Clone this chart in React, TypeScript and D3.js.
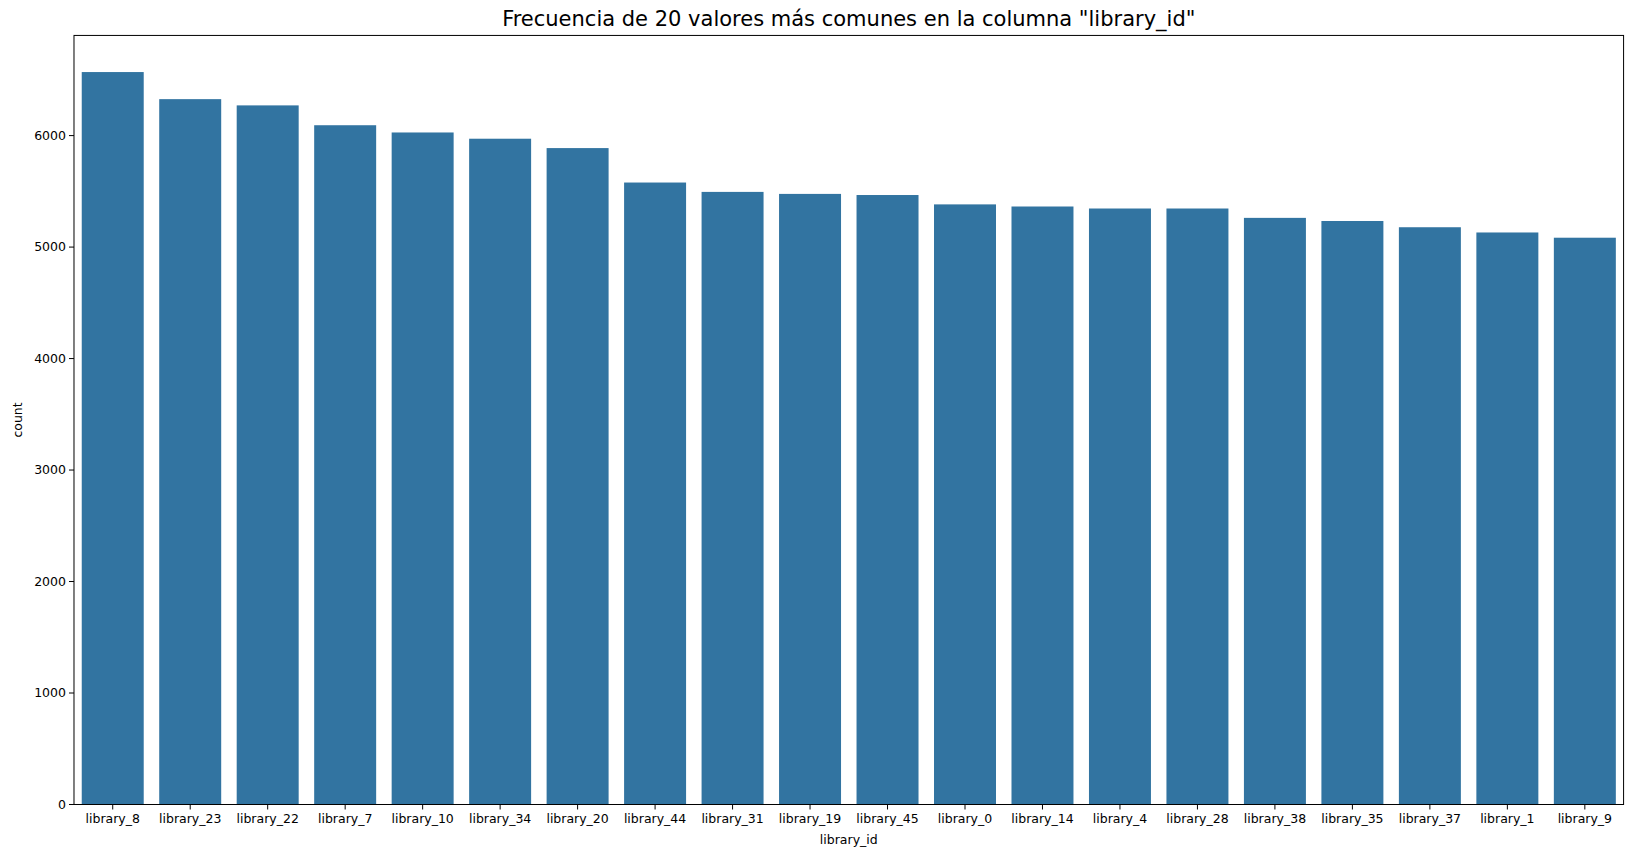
import React from "react";
import * as d3 from "d3";

const categories = ["library_8","library_23","library_22","library_7","library_10","library_34","library_20","library_44","library_31","library_19","library_45","library_0","library_14","library_4","library_28","library_38","library_35","library_37","library_1","library_9"];
const counts = [6570,6327,6271,6093,6028,5972,5888,5579,5495,5477,5467,5383,5364,5346,5346,5262,5234,5178,5131,5084];
const yTicks = [0,1000,2000,3000,4000,5000,6000];

export default function App() {
  const W = 1634, H = 859;
  const s = 1634 / 1568;
  const L = 71 * s, R = 1558 * s, T = 34 * s, B = 772 * s;
  const x = d3.scaleBand().domain(categories).range([L, R]).paddingInner(0.2).paddingOuter(0.1);
  const y = d3.scaleLinear().domain([0, d3.max(counts)! * 1.05]).range([B, T]);
  const font = "DejaVu Sans, sans-serif";
  const fs = 12.5;
  return (
    <svg width={W} height={H} style={{ position: "absolute", left: 0, top: 0 }} fontFamily={font}>
      <rect width={W} height={H} fill="#fff" />
      {categories.map((c, i) => (
        <rect key={c} x={x(c)} y={y(counts[i])} width={x.bandwidth()} height={B - y(counts[i])} fill="#3274a1" />
      ))}
      <rect x={L} y={T} width={R - L} height={B - T} fill="none" stroke="#000" strokeWidth={1} />
      {yTicks.map(t => (
        <g key={t}>
          <line x1={L - 5} x2={L} y1={y(t)} y2={y(t)} stroke="#000" />
          <text x={L - 8} y={y(t)} dy="0.35em" textAnchor="end" fontSize={fs}>{t}</text>
        </g>
      ))}
      {categories.map(c => (
        <g key={c}>
          <line x1={x(c)! + x.bandwidth() / 2} x2={x(c)! + x.bandwidth() / 2} y1={B} y2={B + 5} stroke="#000" />
          <text x={x(c)! + x.bandwidth() / 2} y={B + 19} textAnchor="middle" fontSize={fs}>{c}</text>
        </g>
      ))}
      <text x={(L + R) / 2} y={B + 40} textAnchor="middle" fontSize={fs}>library_id</text>
      <text transform={`translate(22,${(T + B) / 2}) rotate(-90)`} textAnchor="middle" fontSize={fs}>count</text>
      <text x={(L + R) / 2} y={T - 9} textAnchor="middle" fontSize={21}>Frecuencia de 20 valores más comunes en la columna "library_id"</text>
    </svg>
  );
}
